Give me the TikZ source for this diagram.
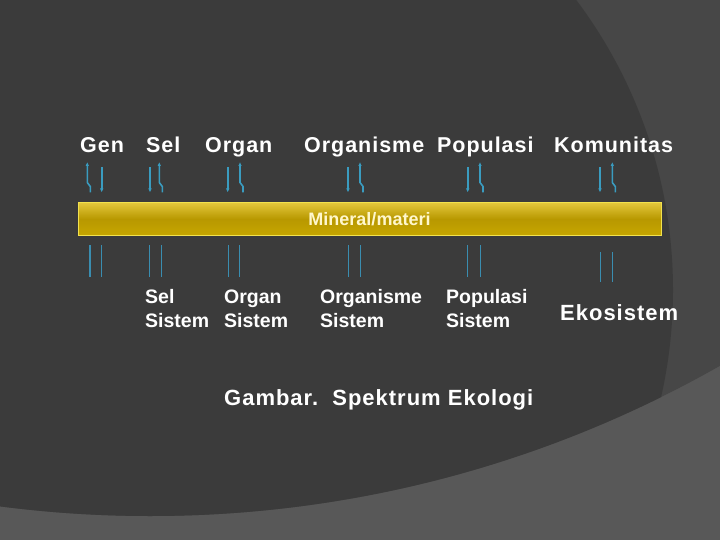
\documentclass[tikz,border=0pt]{standalone}
\usepackage{fontspec}
\setmainfont{Liberation Sans}
\newfontfamily\spc[LetterSpace=4.5]{Liberation Sans Bold}
\usetikzlibrary{arrows.meta}
\definecolor{bglight}{HTML}{585858}
\definecolor{bgmid}{HTML}{474747}
\definecolor{bgdark}{HTML}{3B3B3B}
\definecolor{arrblue}{HTML}{3A9CC0}
\definecolor{lineblue}{HTML}{3A8DB0}
\definecolor{goldtop}{HTML}{E2C63A}
\definecolor{goldmid}{HTML}{B89800}
\definecolor{goldbot}{HTML}{C6A600}
\definecolor{goldedge}{HTML}{F2E24E}
\definecolor{paleyellow}{HTML}{FFF7CC}
\tikzset{
  toplab/.style={anchor=base west, inner sep=0pt, text=white, font=\spc\fontsize{21.5}{26}\selectfont},
  biglab/.style={anchor=base west, inner sep=0pt, text=white, font=\spc\fontsize{22}{26}\selectfont},
  botlab/.style={anchor=base west, inner sep=0pt, text=white, font=\bfseries\fontsize{19.5}{24}\selectfont},
  bar/.style={draw=goldedge, line width=1pt, top color=goldtop, bottom color=goldbot, middle color=goldmid,
    minimum width=583pt, minimum height=32pt, inner sep=0pt, text=paleyellow, font=\bfseries\fontsize{18}{20}\selectfont},
  upar/.style={draw=arrblue, line width=1.6pt, -{Latex[length=4pt,width=3.6pt]}},
  downar/.style={draw=arrblue, line width=1.6pt, -{Latex[length=4pt,width=3.6pt]}},
  pairline/.style={draw=lineblue, line width=1.3pt}
}
\begin{document}
\begin{tikzpicture}[x=1pt,y=-1pt]
\useasboundingbox (0,0) rectangle (720,540);
% background
\fill[bglight] (0,0) rectangle (720,540);
\begin{scope}
  \clip (0,0) rectangle (720,540);
  \clip (150,-639) circle [radius=1155pt];
  \fill[bgmid] (0,0) rectangle (720,540);
  \fill[bgdark] (190,290) circle [radius=483pt];
\end{scope}
% top labels
\node[toplab] (gen) at (80,152.5) {Gen};
\node[toplab] (sel) at (146,152.5) {Sel};
\node[toplab] (org) at (205,152.5) {Organ};
\node[toplab] (orgm) at (304,152.5) {Organisme};
\node[toplab] (pop) at (437,152.5) {Populasi};
\node[toplab] (kom) at (554,152.5) {Komunitas};
% bar
\node[bar] (bar) at (369.5,219) {Mineral/materi};
% arrows above the bar
\foreach \n/\d/\u in {gen/101.7/87.3, sel/150/159.3, org/227.7/240, orgm/348/360, pop/467.7/480, kom/600/612.3} {
  \coordinate (\n-dn-s) at (\d,167.5);
  \coordinate (\n-dn-e) at (\d,192.5);
  \coordinate (\n-up-s) at (\u+3,192.5);
  \coordinate (\n-up-e) at (\u,162);
  \draw[downar] (\n-dn-s) -- (\n-dn-e);
  \draw[upar] (\n-up-s) -- ++(0,-6) -- ++(-3,-4) -- (\n-up-e);
}
% lines below the bar
\foreach \n/\a/\b/\t/\e in {gen/90/101.7/245/277, sel/149.3/161.7/245/277, org/228.3/239.3/245/277, orgm/348.3/360.7/245/277, pop/467.3/480.7/245/277, kom/600.7/612.7/252/282} {
  \coordinate (\n-la-s) at (\a,\t);
  \coordinate (\n-la-e) at (\a,\e);
  \coordinate (\n-lb-s) at (\b,\t);
  \coordinate (\n-lb-e) at (\b,\e);
  \draw[pairline] (\n-la-s) -- (\n-la-e);
  \draw[pairline] (\n-lb-s) -- (\n-lb-e);
}
% bottom labels
\node[botlab] (selA) at (145,303) {Sel};
\node[botlab] (selB) at (145,327) {Sistem};
\node[botlab] (orgA) at (224,303) {Organ};
\node[botlab] (orgB) at (224,327) {Sistem};
\node[botlab] (orgmA) at (320,303) {Organisme};
\node[botlab] (orgmB) at (320,327) {Sistem};
\node[botlab] (popA) at (446,303) {Populasi};
\node[botlab] (popB) at (446,327) {Sistem};
\node[biglab] (eko) at (560,320) {Ekosistem};
% caption
\node[biglab] (cap) at (224,405) {Gambar.\ \ Spektrum Ekologi};
\end{tikzpicture}
\end{document}
